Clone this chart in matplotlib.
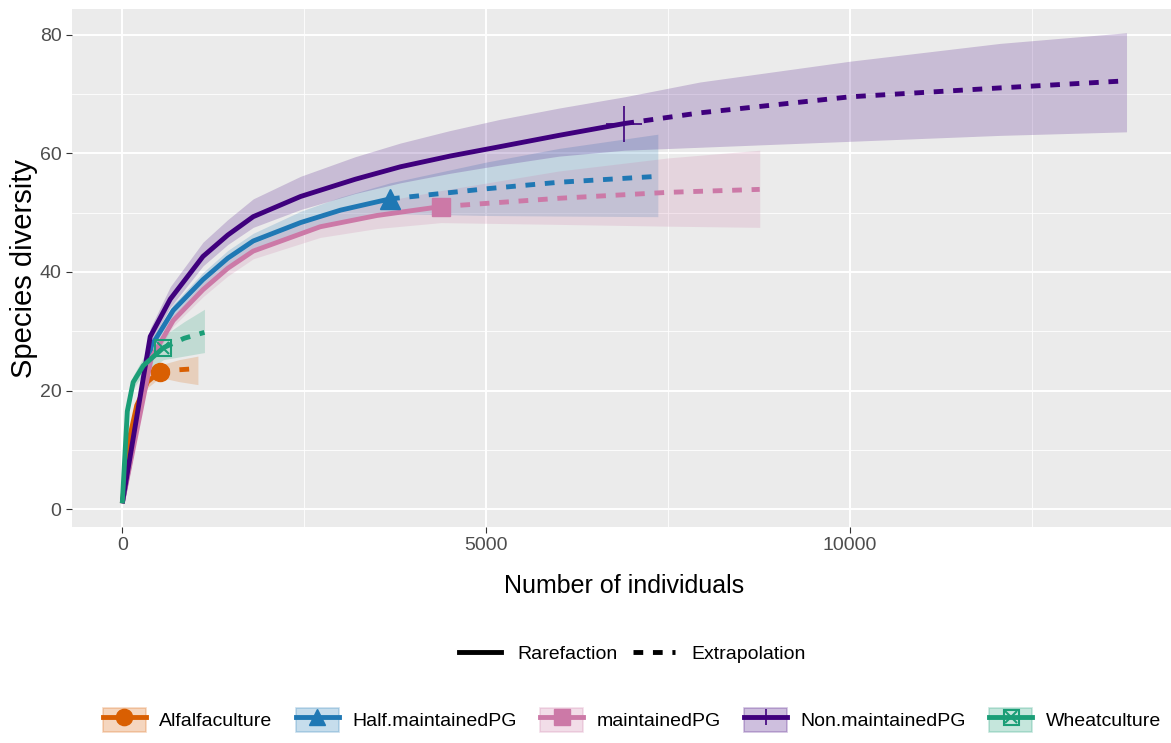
import matplotlib
matplotlib.use("Agg")
import matplotlib.pyplot as plt
from matplotlib.lines import Line2D
from matplotlib.patches import Patch

# ---- data ----
groups = ["Alfalfaculture", "Half.maintainedPG", "maintainedPG", "Non.maintainedPG", "Wheatculture"]
colors = ["#D95F02", "#1F78B4", "#CC79A7", "#3F007D", "#1B9E77"]

alf_rare_x = [1, 100, 200, 350, 520]
alf_rare_y = [1, 12, 17.5, 21.5, 23.2]
alf_rare_lo = [1, 11, 16.5, 20.5, 22.2]
alf_rare_hi = [1, 13, 18.5, 22.5, 24.3]
alf_ext_x = [520, 780, 1040]
alf_ext_y = [23.2, 23.5, 23.7]
alf_ext_lo = [22.2, 21.5, 21.0]
alf_ext_hi = [24.3, 25.2, 25.8]

half_rare_x = [1, 400, 700, 1110, 1450, 1800, 2450, 3000, 3680]
half_rare_y = [1, 27.5, 33.5, 38.7, 42.3, 45.2, 48.3, 50.4, 52.3]
half_rare_lo = [1, 26.8, 32.5, 37.5, 41.0, 44.0, 46.6, 48.3, 49.8]
half_rare_hi = [1, 28.2, 34.5, 39.9, 43.6, 46.5, 50.2, 52.6, 55.0]
half_ext_x = [3680, 5000, 6000, 7360]
half_ext_y = [52.3, 54.0, 55.1, 56.1]
half_ext_lo = [49.8, 49.5, 49.4, 49.3]
half_ext_hi = [55.0, 58.5, 60.8, 63.2]

main_rare_x = [1, 400, 700, 1110, 1450, 1800, 2720, 3500, 4380]
main_rare_y = [1, 25.5, 31.8, 37.0, 40.6, 43.5, 47.6, 49.5, 51.0]
main_rare_lo = [1, 24.8, 30.8, 35.8, 39.3, 42.2, 45.8, 47.3, 48.3]
main_rare_hi = [1, 26.2, 32.8, 38.2, 41.9, 44.8, 49.4, 51.7, 53.7]
main_ext_x = [4380, 6000, 7500, 8760]
main_ext_y = [51.0, 52.4, 53.4, 53.9]
main_ext_lo = [48.3, 48.0, 47.7, 47.5]
main_ext_hi = [53.7, 57.0, 59.2, 60.5]

non_rare_x = [1, 385, 660, 1110, 1450, 1800, 2450, 3200, 3820, 4500, 5190, 6000, 6900]
non_rare_y = [1, 29.1, 35.4, 42.6, 46.2, 49.3, 52.7, 55.6, 57.7, 59.5, 61.1, 63.0, 65.0]
non_rare_lo = [1, 28.0, 34.0, 41.0, 44.6, 47.5, 50.5, 53.2, 55.0, 56.6, 58.0, 59.5, 60.5]
non_rare_hi = [1, 30.5, 37.5, 45.0, 48.8, 52.3, 56.1, 59.4, 61.7, 63.8, 65.7, 67.6, 69.5]
non_ext_x = [6900, 7940, 10000, 12060, 13800]
non_ext_y = [65.0, 66.8, 69.5, 71.0, 72.2]
non_ext_lo = [60.5, 61.0, 62.0, 63.0, 63.6]
non_ext_hi = [69.5, 72.0, 75.5, 78.5, 80.3]

wh_rare_x = [1, 70, 150, 290, 565]
wh_rare_y = [1, 16.5, 21.4, 24.2, 27.2]
wh_rare_lo = [1, 15.5, 20.3, 22.8, 25.2]
wh_rare_hi = [1, 17.5, 22.5, 25.6, 29.2]
wh_ext_x = [565, 850, 1130]
wh_ext_y = [27.2, 28.8, 29.8]
wh_ext_lo = [25.2, 25.8, 26.4]
wh_ext_hi = [29.2, 31.6, 33.7]

series = [
    (alf_rare_x, alf_rare_y, alf_rare_lo, alf_rare_hi, alf_ext_x, alf_ext_y, alf_ext_lo, alf_ext_hi),
    (half_rare_x, half_rare_y, half_rare_lo, half_rare_hi, half_ext_x, half_ext_y, half_ext_lo, half_ext_hi),
    (main_rare_x, main_rare_y, main_rare_lo, main_rare_hi, main_ext_x, main_ext_y, main_ext_lo, main_ext_hi),
    (non_rare_x, non_rare_y, non_rare_lo, non_rare_hi, non_ext_x, non_ext_y, non_ext_lo, non_ext_hi),
    (wh_rare_x, wh_rare_y, wh_rare_lo, wh_rare_hi, wh_ext_x, wh_ext_y, wh_ext_lo, wh_ext_hi),
]

# marker styles per group
markers = [
    dict(marker="o", ms=13),
    dict(marker="^", ms=15),
    dict(marker="s", ms=13),
    dict(marker="+", ms=26, mew=1.2),
    dict(marker="s", ms=12, mfc="none", mew=1.5),
]

plt.rcParams["font.family"] = ["Liberation Sans", "DejaVu Sans"]

W, H = 1171, 743
fig = plt.figure(figsize=(W / 100, H / 100), dpi=100)
ax = fig.add_axes([72 / W, 1 - 527 / H, (1176 - 72) / W, (527 - 9) / H])
ax.set_facecolor("#EBEBEB")
for s in ax.spines.values():
    s.set_visible(False)

# bands first, then lines
for (rx, ry, rlo, rhi, ex, ey, elo, ehi), c in zip(series, colors):
    bx = rx + ex[1:]
    ax.fill_between(bx, rlo + elo[1:], rhi + ehi[1:], color=c, alpha=0.2, lw=0, zorder=2)

for i, ((rx, ry, rlo, rhi, ex, ey, elo, ehi), c) in enumerate(zip(series, colors)):
    ax.plot(rx, ry, color=c, lw=3.5, solid_capstyle="butt", solid_joinstyle="round", zorder=3)
    ax.plot(ex, ey, color=c, lw=3.5, ls=(0, (2, 2)), zorder=3)
    ax.plot([rx[-1]], [ry[-1]], color=c, ls="none", zorder=4, **markers[i])
    if i == 4:
        ax.plot([rx[-1]], [ry[-1]], color=c, ls="none", marker="x", ms=9, mew=1.5, zorder=4)

ax.set_xlim(-690, 14480)
ax.set_ylim(-3, 84.3)
ax.set_xticks([0, 5000, 10000])
ax.set_yticks([0, 20, 40, 60, 80])
ax.set_xticks([2500, 7500, 12500], minor=True)
ax.set_yticks([10, 30, 50, 70], minor=True)
ax.grid(which="major", color="white", lw=1.4, zorder=0)
ax.grid(which="minor", color="white", lw=0.6, zorder=0)
ax.set_axisbelow(True)
ax.tick_params(which="major", length=4, color="#333333", labelsize=14, labelcolor="#4D4D4D")
ax.tick_params(which="minor", length=0)
ax.set_xlabel("Number of individuals", fontsize=18, labelpad=14)
ax.set_ylabel("Species diversity", fontsize=21, labelpad=1)

# linetype legend
lt_handles = [Line2D([], [], color="black", lw=3.5),
              Line2D([], [], color="black", lw=3.5, ls=(0, (2, 2)))]
fig.legend(lt_handles, ["Rarefaction", "Extrapolation"], loc="center",
           bbox_to_anchor=(632 / W, 1 - 654 / H), ncol=2, frameon=False,
           fontsize=14, handlelength=2.2, columnspacing=0.8, handletextpad=0.8)

# group legend
g_handles = []
for i, c in enumerate(colors):
    box = Patch(facecolor=c, alpha=0.25, edgecolor=c, lw=1.2)
    ln = Line2D([], [], color=c, lw=3.5, **{k: v for k, v in markers[i].items() if k != "ms"},
                ms=min(markers[i]["ms"], 13) * 0.9)
    if i == 4:
        g_handles.append((box, ln, Line2D([], [], color=c, ls="none", marker="x", ms=8, mew=1.5)))
    else:
        g_handles.append((box, ln))
fig.legend(g_handles, groups, loc="center", bbox_to_anchor=(632 / W, 1 - 720 / H), ncol=5,
           frameon=False, fontsize=14, handlelength=2.2, handleheight=1.5,
           columnspacing=1.2, handletextpad=0.7)

fig.savefig("out.png", dpi=100)
